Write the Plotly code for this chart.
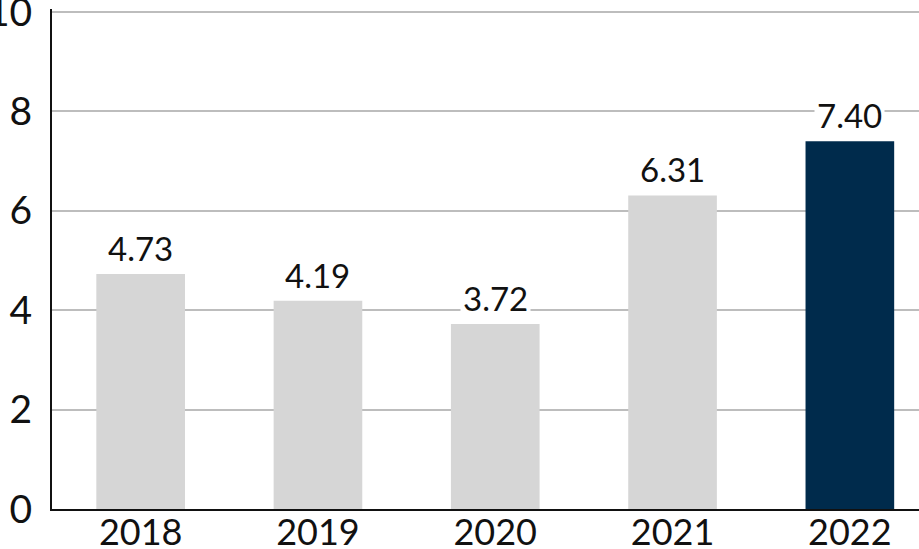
import plotly.graph_objects as go

years = ["2018", "2019", "2020", "2021", "2022"]
values = [4.73, 4.19, 3.72, 6.31, 7.40]
colors = ["#d6d6d6", "#d6d6d6", "#d6d6d6", "#d6d6d6", "#002b4c"]
y_ticks = [0, 2, 4, 6, 8, 10]

FONT = "Lato"

fig = go.Figure()
fig.add_trace(go.Bar(
    x=list(range(len(years))), y=values,
    marker=dict(color=colors, line=dict(width=0)),
    width=0.5, hoverinfo="skip",
))

for i, v in enumerate(values):
    fig.add_annotation(
        x=i, y=v, xref="x", yref="y", text=f"{v:.2f}", showarrow=False,
        yanchor="bottom", yshift=3, bgcolor="white", borderpad=2,
        font=dict(family=FONT, size=33, color="#111111"),
    )

fig.update_layout(
    template="none",
    width=919, height=549,
    margin=dict(l=52, r=0, t=9, b=40, autoexpand=False),
    plot_bgcolor="white", paper_bgcolor="white",
    showlegend=False,
    font=dict(family=FONT, color="#111111"),
)
fig.update_xaxes(
    range=[-0.5, 4.39], automargin=False,
    tickvals=list(range(len(years))), ticktext=years,
    showline=True, linecolor="#111111", linewidth=2,
    tickfont=dict(family=FONT, size=36, color="#111111"),
    ticks="", ticklabelstandoff=-9, ticklabeloverflow="allow",
    showgrid=False, zeroline=False,
)
fig.update_yaxes(
    range=[0, 10.06], tickvals=y_ticks, automargin=False,
    showline=True, linecolor="#111111", linewidth=2,
    showgrid=True, gridcolor="#bdbdbd", gridwidth=1.5,
    tickfont=dict(family=FONT, size=39, color="#111111"),
    ticks="outside", ticklen=10, tickcolor="rgba(0,0,0,0)",
    ticklabeloverflow="allow",
    zeroline=False,
)

fig.write_html("out.html", config={"displayModeBar": False},
               post_script="document.body.style.margin='0';")
